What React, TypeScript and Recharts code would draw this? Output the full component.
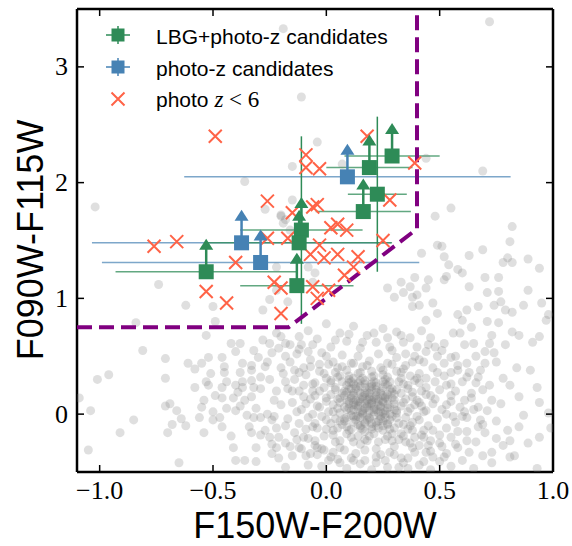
import React from 'react';
import { ScatterChart, Scatter, XAxis, YAxis, ErrorBar, Legend } from 'recharts';

const GREEN = '#2e8b57';
const BLUE = '#4682b4';
const RED = '#ff6347';
const PURPLE = '#800080';

const xTicks = [-1.0, -0.5, 0.0, 0.5, 1.0];
const yTicks = [0, 1, 2, 3];

// selection boundary
const cutX = [-1.1, -0.1667, 0.4, 0.4];
const cutY = [0.75, 0.75, 1.6, 3.5];

// LBG + photo-z candidates
const lbgX = [-0.53, -0.13, -0.11, -0.12, 0.163, 0.225, 0.19, 0.29];
const lbgY = [1.23, 1.11, 1.59, 1.48, 1.75, 1.9, 2.13, 2.23];
const lbgXErr = [0.4, 0.25, 0.27, 0.41, 0.21, 0.13, 0.19, 0.21];
const lbgYErr = [0, 0, 0.81, 0, 0, 0.67, 0, 0];
const lbgLimit = [true, true, true, true, true, false, true, true];

// photo-z candidates
const pzX = [0.093, -0.374, -0.29];
const pzY = [2.05, 1.48, 1.31];
const pzXErr = [0.72, 0.66, 0.7];
const pzLimit = [true, true, true];

// photo z < 6
const lowzX = [-0.49, -0.09, -0.09, -0.03, 0.18, 0.39, 0.28, -0.26, -0.15, -0.06, -0.04, 0.02, 0.05, 0.09, 0.25, -0.03, -0.07, -0.01, 0.05, 0.14, 0.12, 0.08, -0.06, 0.01, -0.04, -0.76, -0.66, -0.26, -0.17, -0.4, -0.53, -0.44, -0.23, -0.2, -0.2];
const lowzY = [2.4, 2.24, 2.13, 2.12, 2.4, 2.17, 1.85, 1.84, 1.74, 1.79, 1.81, 1.61, 1.64, 1.59, 1.5, 1.46, 1.38, 1.35, 1.38, 1.36, 1.27, 1.2, 1.1, 1.07, 1.0, 1.45, 1.49, 1.52, 1.52, 1.31, 1.06, 0.96, 1.14, 1.09, 0.87];

// all other sources (outskirts of the cloud)
const fieldOuter: [number, number][] = [
  [0.72, 3.39], [-0.19, 3.33], [-0.11, 2.74], [-0.04, 2.35], [0.07, 2.16], [0.44, 2.21], [0.69, 2.1], [-0.36, 2.01],
  [-0.15, 2.14], [-0.15, 1.85], [-0.27, 1.77], [-0.2, 1.71], [-0.19, 1.65], [-1.02, 1.79], [-0.74, 1.12], [-0.62, 0.94],
  [-0.5, 0.93], [-0.49, 0.8], [-0.84, 0.79], [-0.22, 1.27], [-0.28, 0.9], [-0.25, 0.99], [-0.17, 0.97], [-0.22, 1.07],
  [-0.05, 1.22], [-0.08, 1.27], [-0.06, 1.14], [-0.2, 1.72], [-0.18, 1.68], [-0.16, 1.59], [0.55, 1.78], [0.48, 1.71],
  [0.82, 1.62], [0.81, 1.49], [0.69, 1.42], [0.49, 1.46], [0.51, 1.45], [0.63, 1.37], [0.52, 1.36], [0.54, 1.29],
  [0.78, 1.31], [0.8, 1.35], [0.82, 1.31], [0.89, 1.34], [0.94, 1.26], [0.58, 1.25], [0.6, 1.22], [0.53, 1.19],
  [0.52, 1.16], [0.45, 1.16], [0.42, 1.39], [0.39, 1.18], [0.7, 1.18], [0.76, 1.18], [0.63, 1.1], [0.71, 1.05],
  [0.76, 1.06], [0.89, 1.07], [0.77, 0.97], [0.74, 0.94], [0.67, 0.93], [0.79, 0.9], [0.82, 0.88], [0.87, 0.94],
  [0.95, 0.96], [0.97, 0.81], [0.98, 0.86], [0.58, 0.86], [0.62, 0.9], [0.6, 0.81], [0.64, 0.75], [0.76, 0.79],
  [0.82, 0.71], [0.85, 0.68], [0.91, 0.62], [0.72, 0.61], [0.47, 0.96], [0.49, 0.87], [0.44, 0.81], [0.41, 0.94],
  [0.38, 0.93], [0.38, 1.01], [0.34, 1.05], [0.3, 1.01], [0.27, 1.09], [0.37, 1.1], [0.4, 1.03], [0.44, 1.09],
  [0.33, 1.14], [0.94, 0.67], [0.84, 0.4], [0.9, 0.38], [0.78, 0.31], [0.81, 0.25], [0.93, 0.23], [0.85, 0.15],
  [0.94, 0.1], [0.87, -0.01], [0.98, 0.01], [0.99, -0.12], [0.85, -0.11], [0.94, -0.2], [0.89, -0.25], [0.81, -0.23],
  [0.78, -0.27], [0.75, -0.21], [0.7, -0.16], [0.73, -0.33], [0.81, -0.37], [0.83, -0.36], [0.73, -0.42], [0.93, -0.47],
  [0.59, 0.7], [0.56, 0.7], [0.71, 0.8], [0.73, 0.68], [0.7, 0.54], [0.74, 0.53], [0.65, 0.61], [0.52, 0.61],
  [0.48, 0.58], [0.55, 0.49], [0.58, 0.38], [0.62, 0.32], [0.67, 0.32], [0.69, 0.21], [0.73, 0.12], [0.67, 0.06],
  [0.62, -0.03], [0.67, -0.11], [0.62, -0.23], [0.58, -0.29], [0.53, -0.34], [0.5, -0.25], [0.47, -0.37], [0.44, -0.33],
  [0.38, -0.29], [0.34, -0.42], [0.3, -0.35], [0.27, -0.46], [0.22, -0.37], [0.17, -0.4], [0.12, -0.4], [0.06, -0.42],
  [0.02, -0.37], [-0.01, -0.31], [-0.05, -0.23], [-0.06, -0.11], [-0.81, 0.55], [-0.71, 0.48], [-0.96, 0.34], [-1.01, 0.3],
  [-0.71, 0.31], [-0.61, 0.44], [-0.58, 0.39], [-0.55, 0.44], [-0.52, 0.49], [-0.53, 0.68], [-0.46, 0.49], [-0.42, 0.61],
  [-0.4, 0.54], [-0.38, 0.61], [-0.32, 0.55], [-0.28, 0.64], [-0.25, 0.61], [-0.22, 0.7], [-0.2, 0.67], [-0.45, 0.41],
  [-0.45, 0.36], [-0.51, 0.35], [-0.53, 0.28], [-0.58, 0.23], [-0.52, 0.25], [-0.44, 0.28], [-0.4, 0.25], [-0.37, 0.28],
  [-0.37, 0.23], [-0.33, 0.29], [-0.32, 0.23], [-0.39, 0.19], [-0.46, 0.23], [-0.49, 0.16], [-0.54, 0.12], [-0.55, 0.06],
  [-0.46, 0.14], [-0.41, 0.14], [-0.38, 0.07], [-0.4, 0.03], [-0.44, 0.05], [-0.5, 0.02], [-0.47, -0.03], [-0.46, -0.11],
  [-0.42, -0.19], [-0.41, -0.29], [-0.34, -0.11], [-0.33, -0.16], [-0.29, -0.18], [-0.35, -0.01], [-0.32, -0.03], [-0.31, 0.05],
  [-0.36, 0.12], [-0.33, 0.15], [-0.29, 0.22], [-0.33, 0.38], [-0.38, 0.36], [-0.37, 0.44], [-0.33, 0.42], [-0.29, 0.32],
  [-0.27, 0.41], [-0.3, 0.49], [-0.24, 0.53], [-0.21, 0.57], [-0.18, 0.61], [-0.56, -0.03], [-0.62, -0.1], [-0.64, -0.04],
  [-0.66, 0.03], [-0.69, 0.09], [-0.71, 0.07], [-0.68, -0.09], [-0.7, -0.16], [-0.85, -0.05], [-0.91, -0.16], [-1.04, 0.03],
  [-1.09, 0.14], [-1.05, -0.31], [-0.65, -0.42], [-0.54, -0.16], [-0.5, -0.05], [-0.4, -0.4], [-0.36, -0.4], [-0.31, -0.41],
  [-0.24, -0.34], [-0.22, -0.29], [-0.18, -0.25], [-0.21, -0.38], [-0.18, -0.46], [-0.12, -0.29], [-0.08, -0.21], [-0.07, -0.34],
  [-0.04, -0.29], [-0.25, -0.2], [-0.27, -0.14], [-0.22, -0.12], [-0.24, -0.05], [-0.29, -0.03], [-0.31, -0.29],
];

// body of the cloud
const fieldCore: [number, number][] = [
  [-0.08, 0.72], [0.0, 0.78], [0.06, 0.7], [0.12, 0.76], [0.18, 0.68], [0.25, 0.74], [0.31, 0.71], [0.37, 0.66],
  [0.42, 0.72], [-0.04, 0.65], [0.09, 0.63], [0.22, 0.62], [0.28, 0.58], [0.34, 0.62], [0.45, 0.6], [0.15, 0.57],
  [-0.11, 0.6], [0.02, 0.58], [-0.13, 0.52], [-0.07, 0.47], [-0.02, 0.53], [0.03, 0.45], [0.07, 0.51], [0.11, 0.44],
  [0.14, 0.5], [0.19, 0.46], [0.23, 0.52], [0.27, 0.44], [0.31, 0.49], [0.35, 0.42], [0.39, 0.5], [0.43, 0.45],
  [0.47, 0.4], [0.52, 0.44], [0.05, 0.4], [0.16, 0.41], [0.25, 0.38], [0.33, 0.36], [-0.1, 0.4], [-0.16, 0.45],
  [0.41, 0.35], [0.55, 0.36], [-0.14, 0.3], [-0.09, 0.34], [-0.05, 0.27], [-0.01, 0.35], [0.02, 0.29], [0.06, 0.33],
  [0.09, 0.25], [0.12, 0.31], [0.15, 0.36], [0.17, 0.26], [0.2, 0.32], [0.22, 0.24], [0.26, 0.3], [0.29, 0.22],
  [0.32, 0.28], [0.36, 0.25], [0.4, 0.31], [0.44, 0.23], [0.48, 0.28], [0.53, 0.25], [0.57, 0.2], [0.6, 0.28],
  [0.08, 0.2], [0.13, 0.22], [0.18, 0.19], [0.24, 0.18], [0.3, 0.17], [-0.03, 0.2], [0.04, 0.23], [0.38, 0.19],
  [0.46, 0.16], [0.64, 0.18], [0.11, 0.28], [0.21, 0.28], [0.27, 0.25], [0.14, 0.27], [0.19, 0.23], [-0.15, 0.1],
  [-0.11, 0.04], [-0.07, 0.13], [-0.03, 0.06], [0.0, 0.14], [0.03, 0.02], [0.06, 0.1], [0.08, 0.16], [0.1, 0.05],
  [0.13, 0.12], [0.15, 0.02], [0.17, 0.09], [0.19, 0.15], [0.21, 0.04], [0.23, 0.11], [0.25, 0.01], [0.27, 0.08],
  [0.29, 0.14], [0.31, 0.03], [0.34, 0.1], [0.37, 0.05], [0.4, 0.12], [0.43, 0.02], [0.47, 0.09], [0.51, 0.04],
  [0.55, 0.11], [0.59, 0.06], [0.12, 0.08], [0.18, 0.06], [0.22, 0.13], [0.16, 0.13], [0.2, 0.1], [0.14, 0.05],
  [0.24, 0.06], [0.09, 0.12], [0.26, 0.14], [0.11, 0.16], [0.05, 0.05], [0.28, 0.0], [-0.12, -0.08], [-0.08, -0.03],
  [-0.04, -0.12], [0.0, -0.05], [0.03, -0.14], [0.06, -0.06], [0.09, -0.11], [0.12, -0.02], [0.14, -0.09], [0.17, -0.15],
  [0.19, -0.04], [0.22, -0.1], [0.25, -0.06], [0.28, -0.13], [0.31, -0.03], [0.34, -0.09], [0.38, -0.14], [0.41, -0.05],
  [0.45, -0.1], [0.49, -0.04], [0.53, -0.12], [0.57, -0.07], [0.15, -0.03], [0.2, -0.08], [0.11, -0.13], [0.24, -0.02],
  [0.08, -0.04], [0.27, -0.08], [-0.1, -0.2], [-0.05, -0.27], [-0.01, -0.19], [0.04, -0.24], [0.08, -0.31], [0.11, -0.2],
  [0.15, -0.26], [0.19, -0.19], [0.22, -0.3], [0.26, -0.22], [0.3, -0.28], [0.34, -0.19], [0.37, -0.25], [0.42, -0.18],
  [0.46, -0.23], [0.51, -0.28], [0.55, -0.2], [0.13, -0.34], [0.24, -0.35], [0.03, -0.33], [0.18, -0.23], [0.29, -0.17],
  [-0.02, -0.45], [0.05, -0.39], [0.09, -0.47], [0.15, -0.43], [0.2, -0.48], [0.26, -0.4], [0.32, -0.46], [0.36, -0.38],
  [0.41, -0.44], [0.46, -0.48], [0.5, -0.41], [-0.25, 0.3], [-0.22, 0.2], [-0.19, 0.35], [-0.2, 0.08], [-0.23, -0.02],
  [-0.18, -0.1], [-0.26, 0.45], [-0.17, 0.22], [-0.21, -0.2], [-0.14, -0.16], [-0.16, 0.6], [-0.12, 0.67],
  [-0.18, 0.5], [-0.12, 0.56], [-0.06, 0.6], [0.04, 0.64], [0.1, 0.69], [0.16, 0.62], [0.21, 0.7], [0.27, 0.66],
  [0.33, 0.68], [0.4, 0.58], [0.46, 0.66], [0.51, 0.55], [0.57, 0.5], [0.62, 0.44], [0.49, 0.5], [0.44, 0.54],
  [0.38, 0.45], [0.58, 0.42], [0.63, 0.36], [0.52, 0.33], [0.5, 0.21], [0.55, 0.16], [0.61, 0.12], [0.65, 0.04],
  [0.53, 0.0], [0.6, -0.02], [0.62, -0.15], [0.57, -0.26], [0.52, -0.37], [0.46, -0.32], [0.41, -0.27], [0.47, -0.14],
  [0.43, -0.2], [0.39, -0.33], [0.33, -0.38], [0.28, -0.33], [0.22, -0.42], [0.17, -0.31], [0.11, -0.38], [0.06, -0.29],
  [0.01, -0.4], [-0.04, -0.35], [-0.08, -0.44], [-0.11, -0.3], [-0.15, -0.36], [-0.13, -0.22], [-0.17, -0.04], [-0.13, 0.02],
  [-0.09, 0.09], [-0.06, 0.0], [-0.09, -0.13], [-0.06, 0.2], [-0.1, 0.25], [-0.15, 0.2], [-0.18, 0.28], [-0.12, 0.36],
  [-0.07, 0.41], [-0.2, 0.4], [-0.23, 0.12], [-0.26, 0.0], [-0.24, -0.26], [0.66, 0.27], [0.7, 0.44], [0.68, -0.05],
  [0.32, -0.22], [0.37, -0.1], [0.42, 0.07], [0.45, -0.27], [0.48, 0.13], [0.5, -0.18], [0.53, 0.08], [0.56, -0.02],
  [0.58, -0.15], [0.61, 0.02], [0.63, -0.33], [0.66, -0.24], [0.64, 0.14], [0.69, -0.09], [0.71, 0.03], [0.75, -0.06],
  [0.77, 0.09], [0.8, -0.14], [0.72, 0.25], [0.68, 0.38], [0.75, 0.45], [0.79, 0.6], [0.66, 0.5], [0.61, 0.6],
  [0.55, 0.26], [0.49, 0.36], [0.35, 0.52], [0.41, 0.47], [0.29, 0.55], [0.36, -0.47], [0.43, -0.41], [0.55, -0.45],
  [0.6, -0.4], [0.65, -0.47], [0.69, -0.36], [-0.1, 0.15], [-0.14, 0.38], [-0.08, 0.54], [-0.03, 0.43], [0.0, 0.5],
  [-0.16, -0.28], [-0.09, -0.36], [-0.02, -0.3], [-0.05, -0.08], [-0.12, 0.2],
];

// densest part of the cloud
const fieldDense: [number, number][] = [
  [0.01, 0.43], [0.07, 0.41], [0.12, 0.44], [0.18, 0.42], [0.24, 0.4], [0.29, 0.43], [0.34, 0.39],
  [-0.03, 0.37], [0.04, 0.36], [0.09, 0.38], [0.14, 0.35], [0.2, 0.37], [0.25, 0.34], [0.31, 0.37], [0.37, 0.33],
  [0.0, 0.31], [0.05, 0.32], [0.1, 0.33], [0.16, 0.31], [0.21, 0.33], [0.27, 0.32], [0.33, 0.31], [0.39, 0.29], [0.44, 0.31],
  [-0.06, 0.26], [0.02, 0.27], [0.07, 0.28], [0.12, 0.26], [0.17, 0.29], [0.22, 0.27], [0.28, 0.28], [0.34, 0.26], [0.41, 0.27],
  [-0.01, 0.23], [0.04, 0.21], [0.1, 0.22], [0.15, 0.24], [0.2, 0.21], [0.25, 0.23], [0.31, 0.21], [0.36, 0.22], [0.42, 0.2],
  [-0.05, 0.16], [0.02, 0.17], [0.07, 0.18], [0.12, 0.16], [0.17, 0.18], [0.22, 0.16], [0.27, 0.17], [0.33, 0.18], [0.38, 0.15], [0.44, 0.17],
  [0.0, 0.11], [0.05, 0.13], [0.1, 0.11], [0.15, 0.13], [0.2, 0.12], [0.25, 0.11], [0.3, 0.12], [0.35, 0.13], [0.41, 0.1],
  [-0.04, 0.07], [0.03, 0.08], [0.08, 0.06], [0.13, 0.08], [0.18, 0.07], [0.23, 0.08], [0.28, 0.06], [0.33, 0.07], [0.39, 0.08],
  [0.01, 0.02], [0.06, 0.01], [0.11, 0.03], [0.16, 0.01], [0.21, 0.02], [0.26, 0.03], [0.31, 0.01], [0.36, 0.02], [0.44, 0.03],
  [-0.02, -0.02], [0.04, -0.04], [0.09, -0.03], [0.14, -0.02], [0.19, -0.03], [0.24, -0.04], [0.29, -0.02], [0.35, -0.03], [0.4, -0.02],
  [0.02, -0.08], [0.07, -0.09], [0.12, -0.07], [0.17, -0.08], [0.22, -0.07], [0.27, -0.09], [0.32, -0.08], [0.38, -0.07],
  [0.0, -0.13], [0.05, -0.12], [0.1, -0.14], [0.15, -0.12], [0.2, -0.13], [0.25, -0.14], [0.3, -0.12], [0.36, -0.13], [0.43, -0.14],
  [0.03, -0.18], [0.09, -0.17], [0.14, -0.19], [0.21, -0.17], [0.27, -0.19], [0.33, -0.17], [0.39, -0.2],
  [0.06, -0.23], [0.12, -0.24], [0.17, -0.22], [0.23, -0.24], [0.29, -0.23], [0.35, -0.24],
  [0.1, 0.27], [0.15, 0.29], [0.2, 0.26], [0.25, 0.28], [0.09, 0.19], [0.14, 0.2], [0.19, 0.18], [0.24, 0.2],
  [0.29, 0.19], [0.11, 0.14], [0.16, 0.15], [0.21, 0.14], [0.26, 0.15], [0.1, 0.09], [0.15, 0.1], [0.2, 0.09],
  [0.25, 0.1], [0.3, 0.09], [0.12, 0.04], [0.17, 0.05], [0.22, 0.04], [0.27, 0.05], [0.11, -0.01], [0.16, 0.0],
  [0.21, -0.01], [0.26, 0.0], [0.13, -0.05], [0.18, -0.05], [0.23, -0.06], [0.15, -0.1], [0.2, -0.11], [0.25, -0.1],
  [0.17, 0.23], [0.22, 0.21], [0.13, 0.24], [0.18, 0.12], [0.23, 0.13], [0.14, 0.07], [0.19, 0.03], [0.24, 0.02],
  [0.12, 0.18], [0.17, 0.16], [0.22, 0.19], [0.27, 0.13], [0.14, 0.11], [0.19, 0.09], [0.24, 0.07], [0.09, 0.04],
  [0.16, 0.03], [0.21, 0.06], [0.26, -0.03], [0.13, -0.02], [0.18, -0.01], [0.23, -0.12], [0.11, 0.22], [0.2, 0.24],
  [0.28, 0.21], [0.06, 0.14], [0.3, 0.04], [0.08, -0.06], [0.17, -0.07], [0.28, -0.05], [0.15, 0.18], [0.25, 0.16],
  [0.19, 0.13], [0.12, 0.1], [0.23, 0.01], [0.16, -0.13], [0.1, 0.3], [0.26, 0.26],
];

const cutData = cutX.map((x, i) => ({ x, y: cutY[i] }));
const lbgData = lbgX.map((x, i) => ({ x, y: lbgY[i], ex: lbgXErr[i], ey: lbgYErr[i], limit: lbgLimit[i] }));
const pzData = pzX.map((x, i) => ({ x, y: pzY[i], ex: pzXErr[i], limit: pzLimit[i] }));
const lowzData = lowzX.map((x, i) => ({ x, y: lowzY[i] }));
const fieldData = [...fieldOuter, ...fieldCore, ...fieldDense].map(([x, y]) => ({ x, y }));

const fmt = (v: number) => v.toFixed(1).replace('-', '\u2212');

const BottomTick = ({ x, y, payload }: any) => (
  <g>
    <line x1={x} y1={y} x2={x} y2={y - 7} stroke="#000" strokeWidth={1.5} />
    <text x={x} y={y + 18} textAnchor="middle" dominantBaseline="central" fontFamily="Liberation Serif" fontSize={26} fill="#000">
      {fmt(payload.value)}
    </text>
  </g>
);

const LeftTick = ({ x, y, payload }: any) => (
  <g>
    <line x1={x} y1={y} x2={x + 7} y2={y} stroke="#000" strokeWidth={1.5} />
    <text x={x - 9} y={y} textAnchor="end" dominantBaseline="central" fontFamily="Liberation Serif" fontSize={26} fill="#000">
      {payload.value}
    </text>
  </g>
);

const TopTick = ({ x, y }: any) => <line x1={x} y1={y} x2={x} y2={y + 7} stroke="#000" strokeWidth={1.5} />;
const RightTick = ({ x, y }: any) => <line x1={x} y1={y} x2={x - 7} y2={y} stroke="#000" strokeWidth={1.5} />;

const XTitle = () => (
  <text x={315} y={525} textAnchor="middle" dominantBaseline="central" fontFamily="Liberation Sans" fontSize={36} fill="#000">
    F150W-F200W
  </text>
);

const YTitle = () => (
  <text x={30} y={240} transform="rotate(-90 30 240)" textAnchor="middle" dominantBaseline="central" fontFamily="Liberation Sans" fontSize={36} fill="#000">
    F090W-F115W
  </text>
);

const Dot = ({ cx, cy }: any) => <circle cx={cx} cy={cy} r={4.5} fill="#808080" fillOpacity={0.25} />;

const Cross = ({ cx, cy }: any) => (
  <path d={`M${cx - 6.5},${cy - 6.5}L${cx + 6.5},${cy + 6.5}M${cx - 6.5},${cy + 6.5}L${cx + 6.5},${cy - 6.5}`} stroke={RED} strokeWidth={2} />
);

const makeSquare = (color: string) => ({ cx, cy, payload }: any) => (
  <g>
    {payload.limit && (
      <g>
        <line x1={cx} y1={cy} x2={cx} y2={cy - 23} stroke={color} strokeWidth={2.5} />
        <polygon points={`${cx - 7},${cy - 22} ${cx + 7},${cy - 22} ${cx},${cy - 33}`} fill={color} />
      </g>
    )}
    <rect x={cx - 7.5} y={cy - 7.5} width={15} height={15} fill={color} />
  </g>
);

const GreenMark = makeSquare(GREEN);
const BlueMark = makeSquare(BLUE);

const LegendBox = () => (
  <svg width={420} height={120} style={{ position: 'absolute', left: 0, top: 0 }}>
    <g>
      <line x1={106} y1={35} x2={130} y2={35} stroke={GREEN} strokeWidth={1.5} />
      <line x1={118} y1={26} x2={118} y2={44} stroke={GREEN} strokeWidth={1.5} />
      <rect x={111.5} y={28.5} width={13} height={13} fill={GREEN} />
      <text x={156} y={36} dominantBaseline="central" fontFamily="Liberation Sans" fontSize={21}>LBG+photo-z candidates</text>
    </g>
    <g>
      <line x1={106} y1={67} x2={130} y2={67} stroke={BLUE} strokeWidth={1.5} />
      <line x1={118} y1={58} x2={118} y2={76} stroke={BLUE} strokeWidth={1.5} />
      <rect x={111.5} y={60.5} width={13} height={13} fill={BLUE} />
      <text x={156} y={68} dominantBaseline="central" fontFamily="Liberation Sans" fontSize={21}>photo-z candidates</text>
    </g>
    <g>
      <path d="M111.5,92.5L124.5,105.5M111.5,105.5L124.5,92.5" stroke={RED} strokeWidth={2} />
      <text x={156} y={99} dominantBaseline="central" fontFamily="Liberation Sans" fontSize={21}>
        photo <tspan fontFamily="Liberation Serif" fontStyle="italic" fontSize={23}>z</tspan>
        <tspan fontFamily="Liberation Serif" fontSize={23}>{' < 6'}</tspan>
      </text>
    </g>
  </svg>
);

const frame = { stroke: '#000', strokeWidth: 2.5 };

export default function App() {
  return (
    <div style={{ position: 'absolute', left: 0, top: 0, background: '#fff' }}>
      <ScatterChart width={572} height={546} margin={{ top: 0, right: 0, bottom: 0, left: 0 }}>
        <XAxis xAxisId="b" type="number" dataKey="x" domain={[-1.1, 1.0]} ticks={xTicks} interval={0} allowDataOverflow
          height={74} axisLine={frame} tickLine={false} tickSize={0} tickMargin={0} tick={<BottomTick />} label={<XTitle />} />
        <XAxis xAxisId="t" orientation="top" type="number" dataKey="x" domain={[-1.1, 1.0]} ticks={xTicks} interval={0} allowDataOverflow
          height={9} axisLine={frame} tickLine={false} tickSize={0} tickMargin={0} tick={<TopTick />} />
        <YAxis yAxisId="l" type="number" dataKey="y" domain={[-0.5, 3.5]} ticks={yTicks} interval={0} allowDataOverflow
          width={77} axisLine={frame} tickLine={false} tickSize={0} tickMargin={0} tick={<LeftTick />} label={<YTitle />} />
        <YAxis yAxisId="r" orientation="right" type="number" dataKey="y" domain={[-0.5, 3.5]} ticks={yTicks} interval={0} allowDataOverflow
          width={19} axisLine={frame} tickLine={false} tickSize={0} tickMargin={0} tick={<RightTick />} />

        <Scatter name="field" data={fieldData} xAxisId="b" yAxisId="l" shape={<Dot />} isAnimationActive={false} />
        <Scatter name="cut" data={cutData} xAxisId="t" yAxisId="r" lineType="joint"
          line={{ stroke: PURPLE, strokeWidth: 4, strokeDasharray: '15 7' }} shape={() => <g />} isAnimationActive={false} />
        <Scatter name="photo z < 6" data={lowzData} xAxisId="b" yAxisId="l" shape={<Cross />} isAnimationActive={false} />
        <Scatter name="photo-z candidates" data={pzData} xAxisId="b" yAxisId="l" shape={<BlueMark />} isAnimationActive={false}>
          <ErrorBar dataKey="ex" direction="x" width={0} stroke={BLUE} strokeWidth={1.5} strokeOpacity={0.7} />
        </Scatter>
        <Scatter name="LBG+photo-z candidates" data={lbgData} xAxisId="b" yAxisId="l" shape={<GreenMark />} isAnimationActive={false}>
          <ErrorBar dataKey="ex" direction="x" width={0} stroke={GREEN} strokeWidth={1.5} strokeOpacity={0.75} />
          <ErrorBar dataKey="ey" direction="y" width={0} stroke={GREEN} strokeWidth={1.5} />
        </Scatter>

        <Legend layout="horizontal" verticalAlign="middle" align="center" content={<LegendBox />}
          wrapperStyle={{ left: 0, top: 0, width: 420, height: 120 }} />
      </ScatterChart>
    </div>
  );
}
